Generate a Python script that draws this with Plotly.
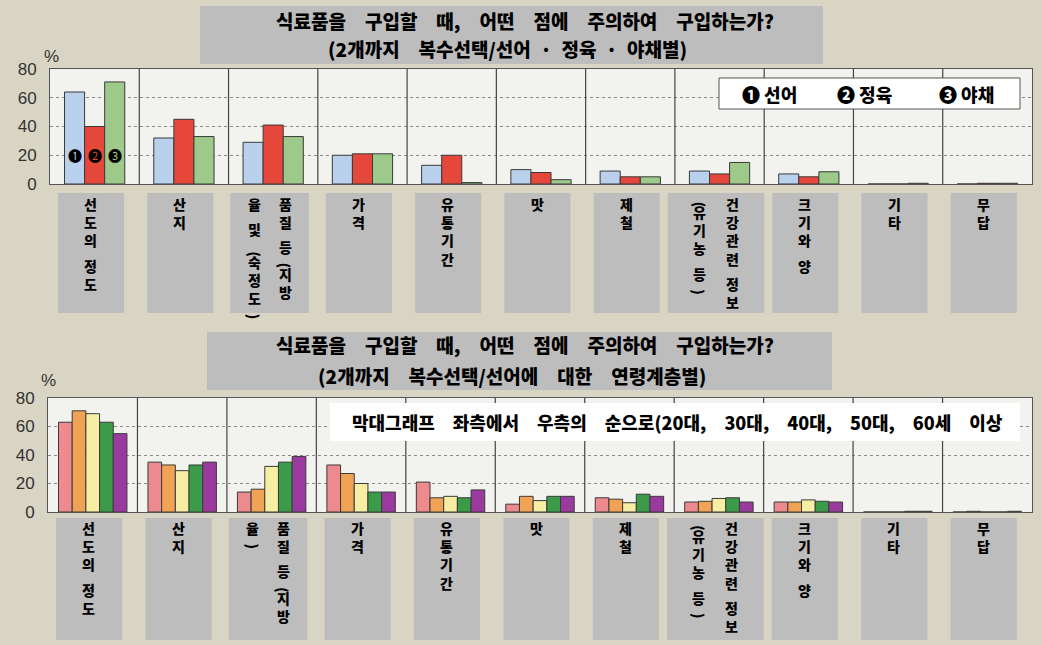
import re
import plotly.graph_objects as go

# ---- data -------------------------------------------------------------
categories = ["선도의 정도", "산지", "품질 등(지방율 및 숙정도)", "가격", "유통기간",
              "맛", "제철", "건강관련 정보(유기농 등)", "크기와 양", "기타", "무답"]

# caption columns (right column first) for the vertical category captions
top_label_cols = [["선도의 정도"], ["산지"], ["품질 등(지방", "율 및 (숙정도)"], ["가격"],
                  ["유통기간"], ["맛"], ["제철"], ["건강관련 정보", "(유기농 등)"],
                  ["크기와 양"], ["기타"], ["무답"]]
bottom_label_cols = [["선도의 정도"], ["산지"], ["품질 등(지방", "율)"], ["가격"],
                     ["유통기간"], ["맛"], ["제철"], ["건강관련 정보", "(유기농 등)"],
                     ["크기와 양"], ["기타"], ["무답"]]

# top chart: by product type
type_names = ["선어", "정육", "야채"]
fish = [64, 32, 29, 20, 13, 10, 9, 9, 7, 0, 0]
meat = [40, 45, 41, 21, 20, 8, 5, 7, 5, 0, 0.5]
veg = [71, 33, 33, 21, 1, 3, 5, 15, 8.5, 0.5, 0.5]

# bottom chart: fresh fish, by age group
age_names = ["20대", "30대", "40대", "50대", "60세 이상"]
age20 = [63, 35, 14, 33, 21, 5.5, 10, 7, 7, 0, 0]
age30 = [71, 33, 16, 27, 10, 11, 9, 7.5, 7, 0, 0.5]
age40 = [69, 29, 32, 20, 11, 8, 6.5, 9.5, 8.5, 0, 0]
age50 = [63, 33, 35, 14, 10, 11, 12.5, 10, 7.5, 0.5, 0]
age60 = [55, 35, 39, 14, 15.5, 11, 11, 7, 7, 0.5, 0.5]

y_ticks = [0, 20, 40, 60, 80]

title_line1 = "식료품을 구입할 때, 어떤 점에 주의하여 구입하는가?"
top_line2 = "(2개까지 복수선택/선어 · 정육 · 야채별)"
bottom_line2 = "(2개까지 복수선택/선어에 대한 연령계층별)"
bottom_note = "막대그래프 좌측에서 우측의 순으로(20대, 30대, 40대, 50대, 60세 이상"
circled = ["❶", "❷", "❸"]

# ---- styling ------------------------------------------------------------
W, H = 1041, 645
KR = "Noto Sans CJK KR"
NUM = "Liberation Sans"
BG = "#d9d5c4"
PLOT_BG = "#f2f2ef"
BOX = "#bdbdbd"
EDGE = "#3a3a3a"
INK = "#000000"
HEAVY = 900
top_colors = ["#b9d1ec", "#e5473b", "#9dc98b"]
age_colors = ["#ec8a8e", "#f0a355", "#f6eea2", "#3c9b48", "#9b3a9e"]
WIDE_SP = "\u2003"     # word spacing in the headings
DOT_SP = "\u2002"      # spacing around the middle dots
CAP_FS = 14            # caption font size
CAP_STEP = 1.3 * CAP_FS  # plotly line spacing


def px(y):
    """pixel row -> paper y"""
    return 1 - y / H


def pxx(x):
    return x / W


def spaced(text, sp):
    text = re.sub(r" ?· ?", DOT_SP + "·" + DOT_SP, text)
    return text.replace(" ", sp)


def heading(text, x, y, size=19, sp=WIDE_SP):
    return dict(xref="paper", yref="paper", x=pxx(x), y=px(y), xanchor="center",
                yanchor="middle", text=spaced(text, sp), showarrow=False,
                font=dict(family=KR, size=size, color=INK, weight=HEAVY))


def caption_column(text, xref, xcat, xshift, y_top):
    """Stack the characters of a caption vertically (top to bottom)."""
    out = []
    y = y_top
    seg = []
    font = dict(family=KR, size=CAP_FS, color=INK, weight=HEAVY)

    def flush():
        nonlocal y, seg
        if seg:
            out.append(dict(xref=xref, yref="paper", x=xcat, xshift=xshift, y=px(y),
                            xanchor="center", yanchor="top", text="<br>".join(seg),
                            showarrow=False, font=font))
            y += len(seg) * CAP_STEP
            seg = []

    for ch in text:
        if ch == " ":
            flush()
            y += 7
        elif ch in "()":
            flush()
            # parentheses are turned a quarter for vertical writing
            out.append(dict(xref=xref, yref="paper", x=xcat, xshift=xshift, y=px(y + 12),
                            xanchor="center", yanchor="middle", text=ch, textangle=90,
                            showarrow=False, font=font))
            y += 8
        else:
            seg.append(ch)
    flush()
    return out


fig = go.Figure()

xs = list(range(len(categories)))

# top panel bars (3 per category)
tw = 0.225
for k, (name, vals, col) in enumerate(zip(type_names, [fish, meat, veg], top_colors)):
    fig.add_trace(go.Bar(
        x=xs, y=vals, name=name, xaxis="x", yaxis="y",
        width=tw, offset=-1.5 * tw + k * tw,
        marker=dict(color=col, line=dict(color=EDGE, width=1)),
        hovertext=categories, showlegend=False))

# bottom panel bars (5 per category)
bw = 0.153
for k, (name, vals, col) in enumerate(zip(age_names, [age20, age30, age40, age50, age60], age_colors)):
    fig.add_trace(go.Bar(
        x=xs, y=vals, name=name, xaxis="x2", yaxis="y2",
        width=bw, offset=-2.5 * bw + k * bw,
        marker=dict(color=col, line=dict(color=EDGE, width=1)),
        hovertext=categories, showlegend=False))

shapes = []
annotations = []

panels = [
    dict(xa="x", ya="y", label_cols=top_label_cols,
         title_box=(200, 6, 823, 64), line1=(525, 20), line2=(top_line2, 507, 49),
         pct=(51, 57), label_top=192, box_y=(193, 313)),
    dict(xa="x2", ya="y2", label_cols=bottom_label_cols,
         title_box=(207, 332, 832, 390), line1=(525, 345), line2=(bottom_line2, 512, 375),
         pct=(48, 380), label_top=516, box_y=(518, 640)),
]

for p in panels:
    # heading box
    x0, y0, x1, y1 = p["title_box"]
    shapes.append(dict(type="rect", xref="paper", yref="paper", x0=pxx(x0), x1=pxx(x1),
                       y0=px(y1), y1=px(y0), fillcolor=BOX, line=dict(width=0), layer="below"))
    annotations.append(heading(title_line1, *p["line1"]))
    t2, tx, ty = p["line2"]
    annotations.append(heading(t2, tx, ty))
    # percent sign
    annotations.append(dict(xref="paper", yref="paper", x=pxx(p["pct"][0]), y=px(p["pct"][1]),
                            xanchor="center", yanchor="middle", text="%", showarrow=False,
                            font=dict(family=NUM, size=17, color="#333")))
    # category separators
    for i in range(len(categories) - 1):
        shapes.append(dict(type="line", xref=p["xa"], yref=p["ya"], x0=i + 0.5, x1=i + 0.5,
                           y0=0, y1=80, line=dict(color="#444", width=1.2)))
    # caption boxes and vertical caption text
    by0, by1 = p["box_y"]
    for i, cols in enumerate(p["label_cols"]):
        half = 0.37 if len(cols) == 1 else (0.44 if i == 2 else 0.54)
        shapes.append(dict(type="rect", xref=p["xa"], yref="paper", x0=i - half - 0.04,
                           x1=i + half - 0.04, y0=px(by1), y1=px(by0), fillcolor=BOX,
                           line=dict(width=0)))
        if len(cols) == 1:
            shifts = [-4]
        else:
            shifts = [12, -19] if i == 2 else [13, -20]
        for col_text, xs_shift in zip(cols, shifts):
            annotations += caption_column(col_text, p["xa"], i, xs_shift, p["label_top"])

# top legend box
shapes.append(dict(type="rect", xref="paper", yref="paper", x0=pxx(719), x1=pxx(1020),
                   y0=px(109), y1=px(78), fillcolor="white", line=dict(color="#555", width=1)))
for sym, name, cx in zip(circled, type_names, [769, 864, 966]):
    annotations.append(dict(xref="paper", yref="paper", x=pxx(cx), y=px(94),
                            xanchor="center", yanchor="middle",
                            text=f"{sym} {name}", showarrow=False,
                            font=dict(family=KR, size=18, color=INK, weight=HEAVY)))

# circled markers inside the first group of the top chart
for k, sym in enumerate(circled):
    annotations.append(dict(xref="x", yref="y", x=-1.5 * tw + k * tw + tw / 2, y=20,
                            xanchor="center", yanchor="middle",
                            text=sym, showarrow=False,
                            font=dict(family=KR, size=14, color=INK)))

# bottom note box
shapes.append(dict(type="rect", xref="paper", yref="paper", x0=pxx(330), x1=pxx(1020),
                   y0=px(441), y1=px(403), fillcolor="white", line=dict(width=0)))
annotations.append(heading(bottom_note, 677, 422, size=18))

axis_common = dict(showline=True, mirror=True, linecolor="#555", linewidth=1, zeroline=False,
                   automargin=False)
xaxis_common = dict(axis_common, range=[-0.5, 10.5], showgrid=False, showticklabels=False,
                    ticks="", fixedrange=True)
yaxis_common = dict(axis_common, range=[0, 80], tickvals=y_ticks, showgrid=True,
                    gridcolor="#8a8a8a", griddash="dot", gridwidth=1, ticks="",
                    ticklabelstandoff=9, tickfont=dict(family=NUM, size=17, color="#333"))

fig.update_layout(
    width=W, height=H, margin=dict(l=0, r=0, t=0, b=0, pad=0, autoexpand=False),
    paper_bgcolor=BG, plot_bgcolor=PLOT_BG, barmode="overlay", showlegend=False,
    xaxis=dict(xaxis_common, domain=[pxx(50), pxx(1032)], anchor="y"),
    yaxis=dict(yaxis_common, domain=[px(184), px(69)], anchor="x"),
    xaxis2=dict(xaxis_common, domain=[pxx(48), pxx(1032)], anchor="y2"),
    yaxis2=dict(yaxis_common, domain=[px(512), px(398)], anchor="x2"),
    shapes=shapes, annotations=annotations,
)

fig.write_html("out.html", post_script="document.body.style.margin='0';")
